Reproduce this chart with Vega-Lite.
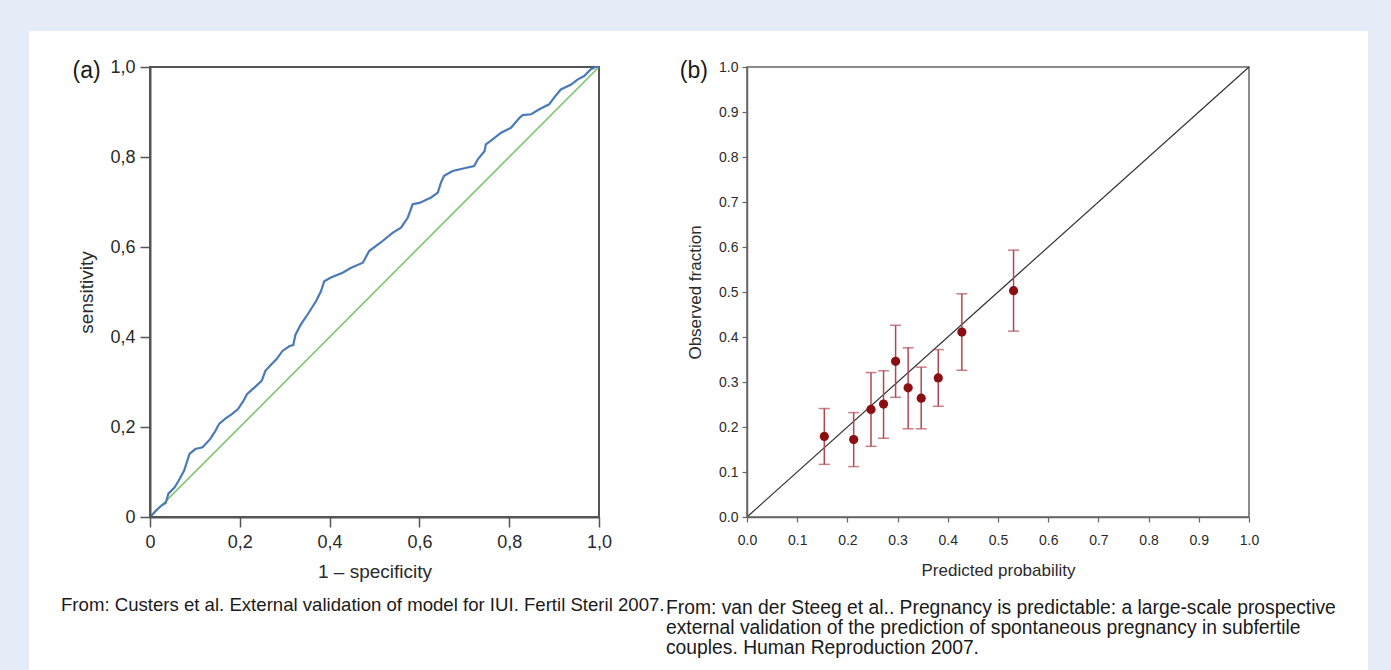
{
  "$schema": "https://vega.github.io/schema/vega-lite/v6.json",
  "background": "#E6ECF7",
  "padding": {"left": 28, "top": 30, "right": 24, "bottom": 0},
  "bounds": "flush",
  "spacing": 148,
  "config": {
    "view": {"stroke": null},
    "font": "Liberation Sans",
    "axis": {"grid": false, "zindex": 2, "labelFont": "Liberation Sans", "titleFont": "Liberation Sans", "titleFontWeight": "normal", "labelColor": "#2a2a2a", "titleColor": "#2a2a2a"}
  },
  "datasets": {
    "one": [{}],
    "roc": [
      {"fpr": 0, "tpr": 0}, {"fpr": 0.014, "tpr": 0.015}, {"fpr": 0.026, "tpr": 0.026}, {"fpr": 0.035, "tpr": 0.031},
      {"fpr": 0.041, "tpr": 0.052}, {"fpr": 0.055, "tpr": 0.066}, {"fpr": 0.064, "tpr": 0.081}, {"fpr": 0.076, "tpr": 0.103},
      {"fpr": 0.088, "tpr": 0.14}, {"fpr": 0.101, "tpr": 0.151}, {"fpr": 0.117, "tpr": 0.155}, {"fpr": 0.134, "tpr": 0.173},
      {"fpr": 0.146, "tpr": 0.192}, {"fpr": 0.154, "tpr": 0.207}, {"fpr": 0.167, "tpr": 0.218}, {"fpr": 0.183, "tpr": 0.229},
      {"fpr": 0.196, "tpr": 0.24}, {"fpr": 0.208, "tpr": 0.258}, {"fpr": 0.216, "tpr": 0.273}, {"fpr": 0.233, "tpr": 0.288},
      {"fpr": 0.249, "tpr": 0.303}, {"fpr": 0.257, "tpr": 0.325}, {"fpr": 0.27, "tpr": 0.339}, {"fpr": 0.282, "tpr": 0.351},
      {"fpr": 0.295, "tpr": 0.369}, {"fpr": 0.311, "tpr": 0.38}, {"fpr": 0.319, "tpr": 0.382}, {"fpr": 0.324, "tpr": 0.405},
      {"fpr": 0.336, "tpr": 0.428}, {"fpr": 0.351, "tpr": 0.45}, {"fpr": 0.37, "tpr": 0.48}, {"fpr": 0.381, "tpr": 0.502},
      {"fpr": 0.388, "tpr": 0.524}, {"fpr": 0.403, "tpr": 0.532}, {"fpr": 0.429, "tpr": 0.543}, {"fpr": 0.448, "tpr": 0.554},
      {"fpr": 0.474, "tpr": 0.565}, {"fpr": 0.488, "tpr": 0.591}, {"fpr": 0.514, "tpr": 0.61}, {"fpr": 0.541, "tpr": 0.632},
      {"fpr": 0.559, "tpr": 0.643}, {"fpr": 0.574, "tpr": 0.665}, {"fpr": 0.585, "tpr": 0.695}, {"fpr": 0.6, "tpr": 0.698},
      {"fpr": 0.626, "tpr": 0.71}, {"fpr": 0.641, "tpr": 0.721}, {"fpr": 0.648, "tpr": 0.743}, {"fpr": 0.655, "tpr": 0.758},
      {"fpr": 0.674, "tpr": 0.769}, {"fpr": 0.7, "tpr": 0.775}, {"fpr": 0.722, "tpr": 0.78}, {"fpr": 0.73, "tpr": 0.795},
      {"fpr": 0.745, "tpr": 0.813}, {"fpr": 0.748, "tpr": 0.828}, {"fpr": 0.763, "tpr": 0.839}, {"fpr": 0.782, "tpr": 0.854},
      {"fpr": 0.804, "tpr": 0.865}, {"fpr": 0.823, "tpr": 0.887}, {"fpr": 0.83, "tpr": 0.893}, {"fpr": 0.849, "tpr": 0.895},
      {"fpr": 0.867, "tpr": 0.906}, {"fpr": 0.889, "tpr": 0.917}, {"fpr": 0.9, "tpr": 0.932}, {"fpr": 0.915, "tpr": 0.95},
      {"fpr": 0.938, "tpr": 0.961}, {"fpr": 0.952, "tpr": 0.972}, {"fpr": 0.967, "tpr": 0.98}, {"fpr": 0.982, "tpr": 0.995},
      {"fpr": 0.993, "tpr": 1.0}, {"fpr": 1, "tpr": 1}
    ],
    "calib": [
      {"pred": 0.154, "obs": 0.179, "lo": 0.117, "hi": 0.241},
      {"pred": 0.2125, "obs": 0.172, "lo": 0.112, "hi": 0.232},
      {"pred": 0.247, "obs": 0.239, "lo": 0.157, "hi": 0.321},
      {"pred": 0.272, "obs": 0.251, "lo": 0.175, "hi": 0.325},
      {"pred": 0.296, "obs": 0.346, "lo": 0.266, "hi": 0.426},
      {"pred": 0.321, "obs": 0.287, "lo": 0.196, "hi": 0.376},
      {"pred": 0.347, "obs": 0.264, "lo": 0.196, "hi": 0.333},
      {"pred": 0.381, "obs": 0.309, "lo": 0.246, "hi": 0.372},
      {"pred": 0.428, "obs": 0.411, "lo": 0.326, "hi": 0.496},
      {"pred": 0.531, "obs": 0.503, "lo": 0.413, "hi": 0.593}
    ]
  },
  "hconcat": [
    {
      "width": 449,
      "height": 450,
      "layer": [
        {
          "data": {"name": "one"},
          "mark": {"type": "rect", "fill": "#ffffff", "clip": false},
          "encoding": {
            "x": {"datum": -0.2695, "type": "quantitative"},
            "x2": {"datum": 2.7127},
            "y": {"datum": 1.08, "type": "quantitative"},
            "y2": {"datum": -0.37}
          }
        },
        {
          "data": {"name": "one"},
          "mark": {"type": "rect", "fill": null, "stroke": "#555555", "strokeWidth": 2, "clip": false},
          "encoding": {
            "x": {"datum": 0, "type": "quantitative"},
            "x2": {"datum": 1},
            "y": {"datum": 0, "type": "quantitative"},
            "y2": {"datum": 1}
          }
        },
        {
          "data": {"name": "one"},
          "mark": {"type": "rule", "color": "#7DC46E", "strokeWidth": 1.6},
          "encoding": {
            "x": {"datum": 0, "type": "quantitative"},
            "y": {"datum": 0, "type": "quantitative"},
            "x2": {"datum": 1},
            "y2": {"datum": 1}
          }
        },
        {
          "data": {"name": "roc"},
          "mark": {"type": "line", "color": "#4A7AB8", "strokeWidth": 2.2},
          "encoding": {
            "x": {
              "field": "fpr", "type": "quantitative",
              "scale": {"domain": [0, 1], "nice": false},
              "axis": {
                "title": "1 – specificity", "values": [0, 0.2, 0.4, 0.6, 0.8, 1], "zindex": 2,
                "labelExpr": "datum.value == 0 ? '0' : replace(format(datum.value, '.1f'), '.', ',')",
                "labelFontSize": 18, "titleFontSize": 19, "tickSize": 10, "labelPadding": 6, "titlePadding": 11,
                "domainColor": "#555555", "domainWidth": 2, "tickColor": "#555555", "tickWidth": 1.5, "labelFlush": false
              }
            },
            "y": {
              "field": "tpr", "type": "quantitative",
              "scale": {"domain": [0, 1], "nice": false},
              "axis": {
                "title": "sensitivity", "values": [0, 0.2, 0.4, 0.6, 0.8, 1], "zindex": 2,
                "labelExpr": "datum.value == 0 ? '0' : replace(format(datum.value, '.1f'), '.', ',')",
                "labelFontSize": 18, "titleFontSize": 19, "tickSize": 10, "labelPadding": 5, "titlePadding": 13,
                "domainColor": "#555555", "domainWidth": 2, "tickColor": "#555555", "tickWidth": 1.5, "labelFlush": false
              }
            }
          }
        },
        {
          "data": {"name": "one"},
          "mark": {"type": "text", "fontSize": 23, "align": "right", "baseline": "middle", "color": "#1a1a1a", "clip": false, "dy": 4},
          "encoding": {
            "x": {"datum": -0.11, "type": "quantitative"},
            "y": {"datum": 1.0, "type": "quantitative"},
            "text": {"value": "(a)"}
          }
        },
        {
          "data": {"name": "one"},
          "mark": {"type": "text", "fontSize": 18.6, "align": "left", "baseline": "middle", "color": "#1a1a1a", "clip": false},
          "encoding": {
            "x": {"datum": -0.1982, "type": "quantitative"},
            "y": {"datum": -0.1956, "type": "quantitative"},
            "text": {"value": "From: Custers et al. External validation of model for IUI. Fertil Steril 2007."}
          }
        }
      ]
    },
    {
      "width": 502,
      "height": 450,
      "layer": [
        {
          "data": {"name": "one"},
          "mark": {"type": "rect", "fill": null, "stroke": "#666666", "strokeWidth": 1.5, "clip": false},
          "encoding": {
            "x": {"datum": 0, "type": "quantitative"},
            "x2": {"datum": 1},
            "y": {"datum": 0, "type": "quantitative"},
            "y2": {"datum": 1}
          }
        },
        {
          "data": {"name": "one"},
          "mark": {"type": "rule", "color": "#333333", "strokeWidth": 1.2},
          "encoding": {
            "x": {"datum": 0, "type": "quantitative"},
            "y": {"datum": 0, "type": "quantitative"},
            "x2": {"datum": 1},
            "y2": {"datum": 1}
          }
        },
        {
          "data": {"name": "calib"},
          "mark": {"type": "rule", "color": "#B04850", "strokeWidth": 1.5},
          "encoding": {
            "x": {"field": "pred", "type": "quantitative"},
            "y": {"field": "lo", "type": "quantitative"},
            "y2": {"field": "hi"}
          }
        },
        {
          "data": {"name": "calib"},
          "mark": {"type": "tick", "orient": "horizontal", "color": "#B04850", "size": 11, "thickness": 1.5},
          "encoding": {
            "x": {"field": "pred", "type": "quantitative"},
            "y": {"field": "lo", "type": "quantitative"}
          }
        },
        {
          "data": {"name": "calib"},
          "mark": {"type": "tick", "orient": "horizontal", "color": "#B04850", "size": 11, "thickness": 1.5},
          "encoding": {
            "x": {"field": "pred", "type": "quantitative"},
            "y": {"field": "hi", "type": "quantitative"}
          }
        },
        {
          "data": {"name": "calib"},
          "mark": {"type": "circle", "size": 85, "color": "#8B0E12", "opacity": 1},
          "encoding": {
            "x": {
              "field": "pred", "type": "quantitative",
              "scale": {"domain": [0, 1], "nice": false},
              "axis": {
                "title": "Predicted probability", "values": [0, 0.1, 0.2, 0.3, 0.4, 0.5, 0.6, 0.7, 0.8, 0.9, 1], "format": ".1f", "zindex": 2,
                "labelFontSize": 14, "titleFontSize": 17, "tickSize": 5, "labelPadding": 11, "titlePadding": 15,
                "domainColor": "#666666", "domainWidth": 1.5, "tickColor": "#666666", "tickWidth": 1.2, "labelFlush": false
              }
            },
            "y": {
              "field": "obs", "type": "quantitative",
              "scale": {"domain": [0, 1], "nice": false},
              "axis": {
                "title": "Observed fraction", "values": [0, 0.1, 0.2, 0.3, 0.4, 0.5, 0.6, 0.7, 0.8, 0.9, 1], "format": ".1f", "zindex": 2,
                "labelFontSize": 14, "titleFontSize": 17, "tickSize": 5, "labelPadding": 4, "titlePadding": 14,
                "domainColor": "#666666", "domainWidth": 1.5, "tickColor": "#666666", "tickWidth": 1.2, "labelFlush": false
              }
            }
          }
        },
        {
          "data": {"name": "one"},
          "mark": {"type": "text", "fontSize": 23, "align": "right", "baseline": "middle", "color": "#1a1a1a", "clip": false, "dy": 4},
          "encoding": {
            "x": {"datum": -0.078, "type": "quantitative"},
            "y": {"datum": 1.0, "type": "quantitative"},
            "text": {"value": "(b)"}
          }
        },
        {
          "data": {"name": "one"},
          "mark": {"type": "text", "fontSize": 19.3, "align": "left", "baseline": "top", "lineHeight": 20, "color": "#1a1a1a", "clip": false},
          "encoding": {
            "x": {"datum": -0.1614, "type": "quantitative"},
            "y": {"datum": -0.1822, "type": "quantitative"},
            "text": {"value": ["From: van der Steeg et al.. Pregnancy is predictable: a large-scale prospective", "external validation of the prediction of spontaneous pregnancy in subfertile", "couples. Human Reproduction 2007."]}
          }
        }
      ]
    }
  ]
}
